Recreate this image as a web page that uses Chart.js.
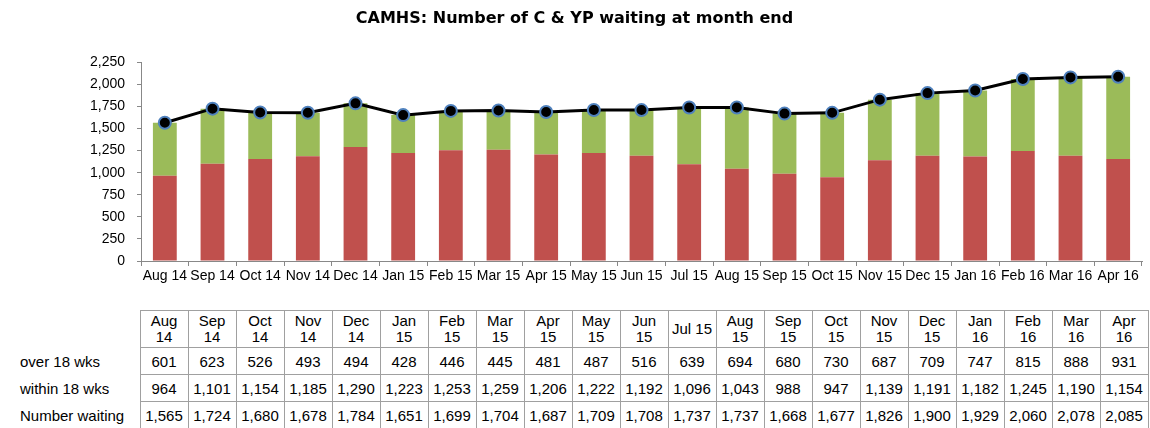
<!DOCTYPE html>
<html>
<head>
<meta charset="utf-8">
<script src="https://cdn.jsdelivr.net/npm/chart.js@4.4.1/dist/chart.umd.min.js"></script>
<style>
    body { margin: 0; background: #fff; }
    #wrap { position: relative; width: 1150px; height: 428px; }
    #chartBox { position: absolute; left: 0; top: 0; width: 1150px; height: 300px; }
    #dataTable {
        position: absolute; left: 0; top: 310px;
        border-collapse: collapse; table-layout: fixed;
        font-family: "Liberation Sans", Arial, sans-serif; font-size: 15px; color: #000;
    }
    #dataTable td { padding: 0; text-align: center; white-space: nowrap; overflow: hidden; }
    #dataTable td.val { border: 1px solid #a0a0a0; height: 26px; }
    #dataTable tr.head td.val { height: 36px; line-height: 16px; }
    #dataTable td.lbl { text-align: left; padding-left: 20px; border: none; }
</style>
</head>
<body>
<div id="wrap">
    <div id="chartBox"><canvas id="waitChart"></canvas></div>
    <table id="dataTable"></table>
</div>
<script>
// categories
const months = ["Aug 14", "Sep 14", "Oct 14", "Nov 14", "Dec 14", "Jan 15", "Feb 15",
    "Mar 15", "Apr 15", "May 15", "Jun 15", "Jul 15", "Aug 15", "Sep 15", "Oct 15",
    "Nov 15", "Dec 15", "Jan 16", "Feb 16", "Mar 16", "Apr 16"];

// header text in the table (Jul 15 kept on one line, like the source)
const tableHeads = ["Aug<br>14", "Sep<br>14", "Oct<br>14", "Nov<br>14", "Dec<br>14", "Jan<br>15",
    "Feb<br>15", "Mar<br>15", "Apr<br>15", "May<br>15", "Jun<br>15", "Jul 15", "Aug<br>15",
    "Sep<br>15", "Oct<br>15", "Nov<br>15", "Dec<br>15", "Jan<br>16", "Feb<br>16", "Mar<br>16", "Apr<br>16"];

// series values
const over18 = [601, 623, 526, 493, 494, 428, 446, 445, 481, 487, 516, 639, 694, 680, 730,
    687, 709, 747, 815, 888, 931];
const within18 = [964, 1101, 1154, 1185, 1290, 1223, 1253, 1259, 1206, 1222, 1192, 1096, 1043,
    988, 947, 1139, 1191, 1182, 1245, 1190, 1154];
const numberWaiting = [1565, 1724, 1680, 1678, 1784, 1651, 1699, 1704, 1687, 1709, 1708, 1737,
    1737, 1668, 1677, 1826, 1900, 1929, 2060, 2078, 2085];

// y axis ticks
const yTicks = [0, 250, 500, 750, 1000, 1250, 1500, 1750, 2000, 2250];

const fontFam = "'Liberation Sans', Arial, sans-serif";
const fmt = (v) => v.toLocaleString("en-GB");

// data table under the chart
const rows = [
    { label: "over 18 wks", data: over18 },
    { label: "within 18 wks", data: within18 },
    { label: "Number waiting", data: numberWaiting },
];
let html = '<colgroup><col style="width:140px">';
months.forEach(() => { html += '<col style="width:48px">'; });
html += "</colgroup>";
html += '<tr class="head"><td class="lbl"></td>';
tableHeads.forEach((h) => { html += `<td class="val">${h}</td>`; });
html += "</tr>";
rows.forEach((r) => {
    html += `<tr><td class="lbl">${r.label}</td>`;
    r.data.forEach((v) => { html += `<td class="val">${fmt(v)}</td>`; });
    html += "</tr>";
});
document.getElementById("dataTable").innerHTML = html;

const ctx = document.getElementById("waitChart").getContext("2d");
new Chart(ctx, {
    data: {
        labels: months,
        datasets: [
            {
                type: "line",
                label: "Number waiting",
                data: numberWaiting,
                stack: "total",
                order: 0,
                borderColor: "#000",
                borderWidth: 3,
                pointBackgroundColor: "#000",
                pointBorderColor: "#4F81BD",
                pointBorderWidth: 2,
                pointRadius: 6,
                tension: 0,
            },
            {
                // bottom of the stack
                type: "bar",
                label: "within 18 wks",
                data: within18,
                stack: "wait",
                order: 1,
                backgroundColor: "#C0504D",
                barPercentage: 0.5,
                categoryPercentage: 1,
            },
            {
                type: "bar",
                label: "over 18 wks",
                data: over18,
                stack: "wait",
                order: 2,
                backgroundColor: "#9BBB59",
                barPercentage: 0.5,
                categoryPercentage: 1,
            },
        ],
    },
    options: {
        responsive: true,
        maintainAspectRatio: false,
        animation: false,
        layout: { padding: { left: 0, right: 1, top: 0, bottom: 0 } },
        plugins: {
            legend: { display: false },
            tooltip: { enabled: false },
            title: {
                display: true,
                text: "CAMHS: Number of C & YP waiting at month end",
                color: "#000",
                font: { family: "'DejaVu Sans', Arial, sans-serif", size: 16, weight: "bold" },
                padding: { top: 9, bottom: 34 },
            },
        },
        scales: {
            x: {
                stacked: true,
                offset: true,
                grid: {
                    display: true,
                    drawOnChartArea: false,
                    offset: true,
                    tickLength: 5,
                    color: "#888",
                },
                border: { color: "#888" },
                ticks: {
                    autoSkip: false,
                    maxRotation: 0,
                    color: "#000",
                    padding: 2,
                    font: { family: fontFam, size: 14 },
                },
                afterFit: (scale) => { scale.height = 39; },
            },
            y: {
                stacked: true,
                min: 0,
                max: 2250,
                afterBuildTicks: (scale) => {
                    scale.ticks = yTicks.map((v) => ({ value: v }));
                },
                grid: {
                    display: true,
                    drawOnChartArea: false,
                    tickLength: 4,
                    color: "#888",
                },
                border: { color: "#888" },
                ticks: {
                    color: "#000",
                    padding: 12,
                    font: { family: fontFam, size: 14 },
                    callback: (v) => fmt(v),
                },
                afterFit: (scale) => { scale.width = 141; },
            },
        },
    },
});
</script>
</body>
</html>
